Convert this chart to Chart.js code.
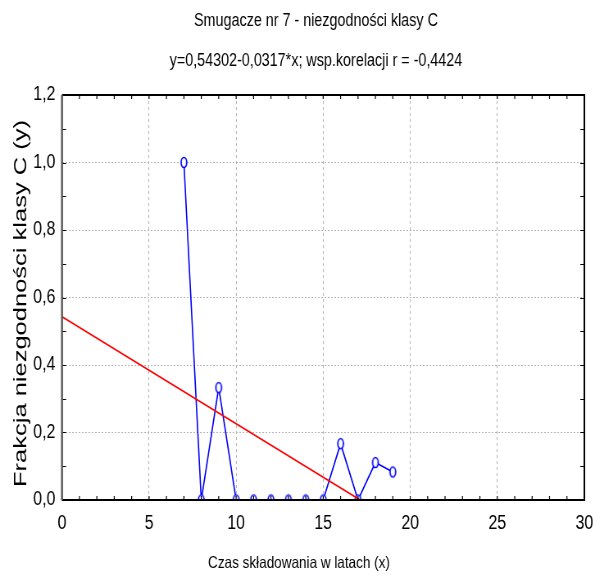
<!DOCTYPE html>
<html><head><meta charset="utf-8">
<script src="https://cdn.jsdelivr.net/npm/chart.js@4.4.0/dist/chart.umd.min.js"></script>
<style>
html,body{margin:0;padding:0;background:#fff;overflow:hidden;width:595px;height:577px}
#c{display:block;transform:scaleX(0.819559);transform-origin:0 0}
</style>
</head><body>
<canvas id="c" width="726" height="577" style="width:726px;height:577px"></canvas>
<script>
const chartTitle = 'Smugacze nr 7 - niezgodności klasy C';
const chartSubtitle = 'y=0,54302-0,0317*x; wsp.korelacji r = -0,4424';
const xAxisTitle = 'Czas składowania w latach (x)';
const yAxisTitle = 'Frakcja niezgodności klasy C (y)';
const years = [7, 8, 9, 10, 11, 12, 13, 14, 15, 16, 17, 18, 19];
const fraction = [1.0, 0, 0.333, 0, 0, 0, 0, 0, 0, 0.167, 0, 0.111, 0.083];
const fitX = [0, 17.13];
const fitY = [0.54302, 0];
const xTickLabels = ['0', '5', '10', '15', '20', '25', '30'];
const yTickLabels = ['0,0', '0,2', '0,4', '0,6', '0,8', '1,0', '1,2'];

// the whole canvas is compressed horizontally (like the narrow font of the original)
const SX = 595 / 726;
const FONT = "'Liberation Sans', Arial, sans-serif";

function ellipseMarker() {
  const c = document.createElement('canvas');
  c.width = 11; c.height = 15;
  const g = c.getContext('2d');
  g.beginPath();
  g.ellipse(5.5, 7.5, 3.4, 5.0, 0, 0, Math.PI * 2);
  g.fillStyle = '#fff'; g.fill();
  g.strokeStyle = '#0000ff'; g.lineWidth = 1.7; g.stroke();
  return c;
}

// let the y tick labels draw to the left of the (narrow) y scale box
const labelAreaPlugin = {
  id: 'labelArea',
  afterLayout(chart) { chart.scales.y.left = 0; }
};

const framePlugin = {
  id: 'frame',
  afterDatasetsDraw(chart) {
    const { ctx, chartArea: a, scales: { x, y } } = chart;
    ctx.save();
    ctx.strokeStyle = '#000'; ctx.lineWidth = 1.2;
    ctx.beginPath();
    for (let v = x.min; v <= x.max; v += 1) {
      const px = x.getPixelForValue(v);
      ctx.moveTo(px, a.bottom); ctx.lineTo(px, a.bottom - 4);
      ctx.moveTo(px, a.top); ctx.lineTo(px, a.top + 4);
    }
    ctx.stroke();
    ctx.lineWidth = 1;
    ctx.beginPath();
    for (let k = 0; k <= 12; k++) {
      const py = Math.round(y.getPixelForValue(k / 10)) + 0.5;
      ctx.moveTo(a.left, py); ctx.lineTo(a.left + 5, py);
      ctx.moveTo(a.right, py); ctx.lineTo(a.right - 5, py);
    }
    ctx.stroke();
    ctx.lineWidth = 2;
    ctx.strokeStyle = '#000';
    ctx.beginPath();
    ctx.moveTo(a.left, a.top); ctx.lineTo(a.right, a.top); ctx.lineTo(a.right, a.bottom); ctx.lineTo(a.left, a.bottom);
    ctx.stroke();
    ctx.lineWidth = 2.4;
    ctx.strokeStyle = '#555';
    ctx.beginPath();
    ctx.moveTo(a.left, a.top); ctx.lineTo(a.left, a.bottom);
    ctx.stroke();
    ctx.restore();
  }
};

const axisTitlePlugin = {
  id: 'axisTitles',
  afterDraw(chart) {
    const { ctx, chartArea: a } = chart;
    ctx.save();
    ctx.fillStyle = '#000';
    ctx.textAlign = 'center';
    ctx.textBaseline = 'middle';
    // x-axis title
    ctx.font = '16.5px ' + FONT;
    ctx.fillText(xAxisTitle, 299 / SX, a.bottom + 63);
    // y-axis title
    ctx.translate(21 / SX, (a.top + a.bottom) / 2 + 6);
    ctx.rotate(-Math.PI / 2);
    ctx.scale(1, 0.88);
    ctx.font = '25.5px ' + FONT;
    ctx.fillText(yAxisTitle, 0, 0);
    ctx.restore();
  }
};

Chart.defaults.color = '#000';

const PAD_LEFT = 58;

new Chart(document.getElementById('c'), {
  type: 'scatter',
  data: {
    datasets: [
      {
        label: 'fit',
        data: fitX.map((v, i) => ({ x: v, y: fitY[i] })),
        showLine: true,
        borderColor: '#ff0000',
        borderWidth: 1.7,
        pointRadius: 0,
        clip: 0
      },
      {
        label: 'data',
        data: years.map((v, i) => ({ x: v, y: fraction[i] })),
        showLine: true,
        borderColor: '#0000ff',
        borderWidth: 1.6,
        pointStyle: ellipseMarker(),
        pointRadius: 5,
        clip: 0
      }
    ]
  },
  options: {
    responsive: false,
    animation: false,
    devicePixelRatio: 1,
    layout: { padding: { left: PAD_LEFT, right: 13, top: 0, bottom: 0 } },
    plugins: {
      legend: { display: false },
      tooltip: { enabled: false },
      title: {
        display: true, text: chartTitle, color: '#000',
        font: { family: FONT, size: 17.5, weight: 'normal', lineHeight: 1.2 },
        padding: { top: 11, bottom: 19 }
      },
      subtitle: {
        display: true, text: chartSubtitle, color: '#000',
        font: { family: FONT, size: 17.5, weight: 'normal', lineHeight: 1.2 },
        padding: { top: 0, bottom: 23 }
      }
    },
    scales: {
      x: {
        type: 'linear', min: 0, max: 30,
        afterFit(s) { s.height = 77; s.paddingLeft = 0; s.paddingRight = 0; },
        ticks: {
          stepSize: 5, padding: 12, maxRotation: 0,
          font: { family: FONT, size: 19.5 },
          callback: (v, i) => xTickLabels[i]
        },
        grid: { color: '#b4b4b4', lineWidth: 1, drawTicks: false },
        border: { display: false, dash: [3, 3] }
      },
      y: {
        type: 'linear', min: 0, max: 1.2,
        afterFit(s) { s.width = 62 / SX - PAD_LEFT; },
        ticks: {
          stepSize: 0.2, padding: 8,
          font: { family: FONT, size: 19.5 },
          callback: (v, i) => yTickLabels[i]
        },
        grid: { color: '#b4b4b4', lineWidth: 1, drawTicks: false },
        border: { display: false, dash: [2, 2] }
      }
    }
  },
  plugins: [labelAreaPlugin, framePlugin, axisTitlePlugin]
});
</script>
</body></html>
